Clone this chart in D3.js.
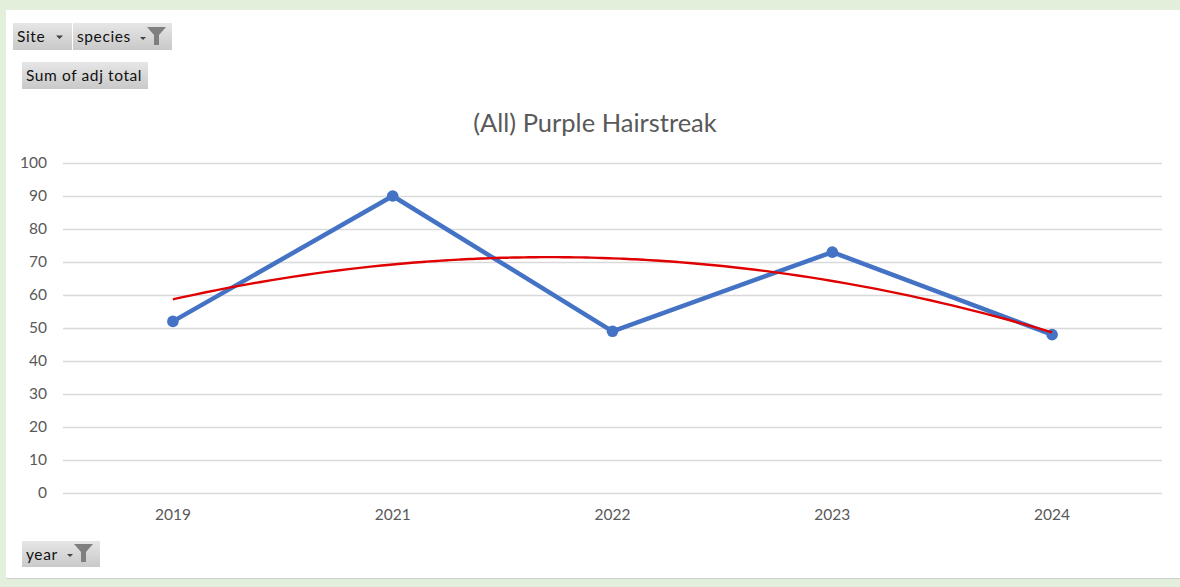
<!DOCTYPE html>
<html><head><meta charset="utf-8">
<script src="https://cdn.jsdelivr.net/npm/d3@7"></script>
<style>
html,body{margin:0;padding:0;background:#e2efda;}
svg{display:block;}
</style></head>
<body>
<svg id="c" width="1180" height="587"></svg>
<script>
const years = ["2019","2021","2022","2023","2024"];
const values = [52, 90, 49, 73, 48];
const yTicks = [0,10,20,30,40,50,60,70,80,90,100];
const title = "(All) Purple Hairstreak";
const valueButton = "Sum of adj total";
const axisButton = "year";

const svg = d3.select("#c");
const font = "Lato, 'Open Sans', sans-serif";

// chart area background
svg.append("rect").attr("x",6).attr("y",10).attr("width",1174).attr("height",568).attr("fill","#fff");
svg.append("line").attr("x1",6).attr("x2",1180).attr("y1",578.5).attr("y2",578.5).attr("stroke","#d0d0d0");

const x = d3.scaleBand().domain(years).range([63,1162]);
const y = d3.scaleLinear().domain([0,100]).range([493,163]);

// gridlines
svg.append("g").selectAll("line").data(yTicks).join("line")
  .attr("x1",63).attr("x2",1162)
  .attr("y1",d=>Math.round(y(d))+0.5).attr("y2",d=>Math.round(y(d))+0.5)
  .attr("stroke","#d9d9d9").attr("stroke-width",1.3);

// y axis labels
const ya = svg.append("g").attr("transform","translate(54,0)")
  .call(d3.axisLeft(y).tickValues(yTicks).tickSize(0).tickPadding(7));
ya.select(".domain").remove();
ya.selectAll("text").attr("font-family",font).attr("font-size",15.5).attr("fill","#595959");

// x axis labels
const xa = svg.append("g").attr("transform","translate(0,493)")
  .call(d3.axisBottom(x).tickSize(0).tickPadding(16));
xa.select(".domain").remove();
xa.selectAll("text").attr("font-family",font).attr("font-size",15.5).attr("fill","#595959");

// title
svg.append("text").attr("x",595).attr("y",132).attr("text-anchor","middle")
  .attr("font-family",font).attr("font-size",25.5).attr("fill","#595959").text(title);

// data line
const cx = d => x(d) + x.bandwidth()/2;
const pts = years.map((yr,i)=>[cx(yr), y(values[i])]);
svg.append("path").attr("d", d3.line()(pts)).attr("fill","none")
  .attr("stroke","#4472c4").attr("stroke-width",4.5).attr("stroke-linejoin","round");
svg.append("g").selectAll("circle").data(pts).join("circle")
  .attr("cx",d=>d[0]).attr("cy",d=>d[1]).attr("r",5.8).attr("fill","#4472c4");

// polynomial (order 2) trendline, least squares on index 1..n
const n = values.length;
const xs = values.map((_,i)=>i+1);
const mx = d3.mean(xs), my = d3.mean(values);
const p1 = xs.map(v=>v-mx);
const s2 = d3.mean(p1.map(v=>v*v));
const p2 = p1.map(v=>v*v - s2);
const b = d3.sum(p1.map((v,i)=>v*values[i]))/d3.sum(p1.map(v=>v*v));
const c = d3.sum(p2.map((v,i)=>v*values[i]))/d3.sum(p2.map(v=>v*v));
const trend = t => my + b*(t-mx) + c*((t-mx)*(t-mx)-s2);
const tx = d3.scaleLinear().domain([1,n]).range([cx(years[0]), cx(years[n-1])]);
const tpts = d3.range(1, n+0.001, 0.05).map(t=>[tx(t), y(trend(t))]);
svg.append("path").attr("d", d3.line().curve(d3.curveBasis)(tpts)).attr("fill","none")
  .attr("stroke","#e00000").attr("stroke-width",2.4);

// pivot buttons
const defs = svg.append("defs");
const g = defs.append("linearGradient").attr("id","btn").attr("x1",0).attr("x2",0).attr("y1",0).attr("y2",1);
g.append("stop").attr("offset","0%").attr("stop-color","#e6e6e6");
g.append("stop").attr("offset","100%").attr("stop-color","#c9c9c9");

function arrow(px,py){
  svg.append("path").attr("d",`M${px},${py} l7,0 l-3.5,3.5 z`).attr("fill","#404040");
}
function filterIcon(px,py){
  svg.append("path").attr("d",`M${px},${py+10} l6,0 l-3,3 z`).attr("fill","#404040");
  svg.append("path").attr("d",`M${px+7},${py} l19,0 l-7,8 l0,10 l-5,0 l0,-10 z`).attr("fill","#7f7f7f");
}
function button(bx,by,w,h,label){
  svg.append("rect").attr("x",bx).attr("y",by).attr("width",w).attr("height",h).attr("fill","url(#btn)");
  svg.append("text").attr("x",bx+4).attr("y",by+h/2+5.5).attr("font-family",font).attr("font-size",15.5)
    .attr("letter-spacing",0.6).attr("fill","#111").text(label);
}
button(13,23,59,27,"Site"); arrow(56,35.5);
button(73,23,99,27,"species"); filterIcon(140,27);
button(22,62,126,27,valueButton);
button(22,541,78,26,axisButton); filterIcon(67,544);
</script>
</body></html>
